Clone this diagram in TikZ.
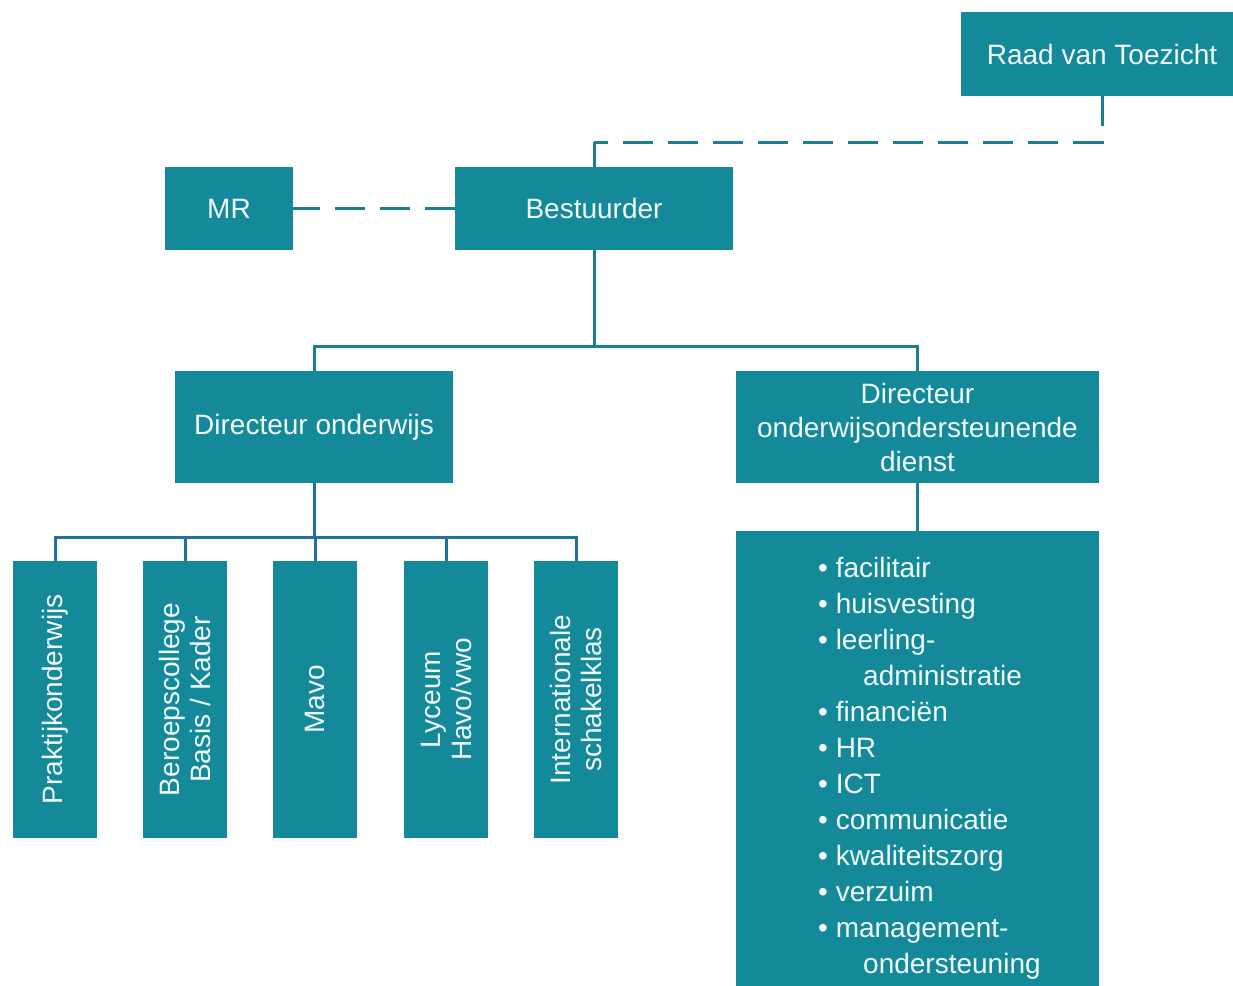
\documentclass[tikz,border=0pt]{standalone}
\usepackage{fontspec}
\setmainfont{Liberation Sans}
\definecolor{orgblok}{HTML}{14899A}
\definecolor{orgtekst}{HTML}{F2FBFB}
\definecolor{orglijn}{HTML}{1A7F8E}
\definecolor{orgtak}{HTML}{2070A5}

\begin{document}
\begin{tikzpicture}[x=1pt,y=-1pt,
	blok/.style={fill=orgblok,text=orgtekst,inner sep=0pt,align=center,font=\fontsize{28}{34}\selectfont},
	staand/.style={blok,rotate=90,minimum width=277pt,minimum height=84pt,font=\fontsize{28}{31}\selectfont},
	lijn/.style={draw=orglijn,line width=3pt},
	stippel/.style={lijn,dash pattern=on 30pt off 15pt},
	tak/.style={draw=orgtak,line width=3pt}]
					\useasboundingbox (0,0) rectangle (1233,985);
					%BOVENSTE LAAG
					\node[blok,minimum width=282pt,minimum height=84pt] (raad) at (1102,54) {Raad van Toezicht};
					\node[blok,minimum width=128pt,minimum height=83pt] (mr) at (229,208.5) {MR};
					\node[blok,minimum width=278pt,minimum height=83pt] (bestuurder) at (594,208.5) {Bestuurder};
					\coordinate (knik) at (594,142);
					\draw[stippel] (raad.south) |- (knik);
					\draw[lijn] (knik) -- (bestuurder.north);
					\draw[stippel] (bestuurder.west) -- (mr.east);

					%DIRECTEUREN
					\node[blok,minimum width=278pt,minimum height=112pt] (dironderwijs) at (314,427) {Directeur onderwijs};
					\node[blok,minimum width=363pt,minimum height=112pt] (dirdienst) at (917.5,427) {Directeur\\onderwijsondersteunende\\dienst};
					\coordinate (splitsA) at (594,346);
					\draw[lijn] (bestuurder.south) -- (splitsA);
					\draw[lijn] (dironderwijs.north) |- (splitsA) -| (dirdienst.north);

					%AFDELINGEN
					\node[staand] (praktijk) at (55,699.5) {Praktijkonderwijs};
					\node[staand] (beroeps) at (185,699.5) {Beroepscollege\\Basis / Kader};
					\node[staand] (mavo) at (315,699.5) {Mavo};
					\node[staand] (lyceum) at (446,699.5) {Lyceum\\Havo/vwo};
					\node[staand] (isk) at (576,699.5) {Internationale\\schakelklas};
					\coordinate (splitsB) at (314,537);
					\draw[tak] (dironderwijs.south) -- (splitsB);
					\foreach \afd in {praktijk,beroeps,mavo,lyceum,isk}
						\draw[tak] (splitsB) -| (\afd.east);

					%DIENST
					\node[blok,minimum width=363pt,minimum height=464pt] (dienst) at (917.5,763) {};
					\draw[lijn] (dirdienst.south) -- (dienst.north);
					\node[text=orgtekst,inner sep=0pt,anchor=north west,align=left,font=\fontsize{28}{36}\selectfont] (taken) at (818,557)
						{• facilitair\\
						 • huisvesting\\
						 • leerling-\\
						 \hspace*{45pt}administratie\\
						 • financiën\\
						 • HR\\
						 • ICT\\
						 • communicatie\\
						 • kwaliteitszorg\\
						 • verzuim\\
						 • management-\\
						 \hspace*{45pt}ondersteuning};
				  \end{tikzpicture}
\end{document}
